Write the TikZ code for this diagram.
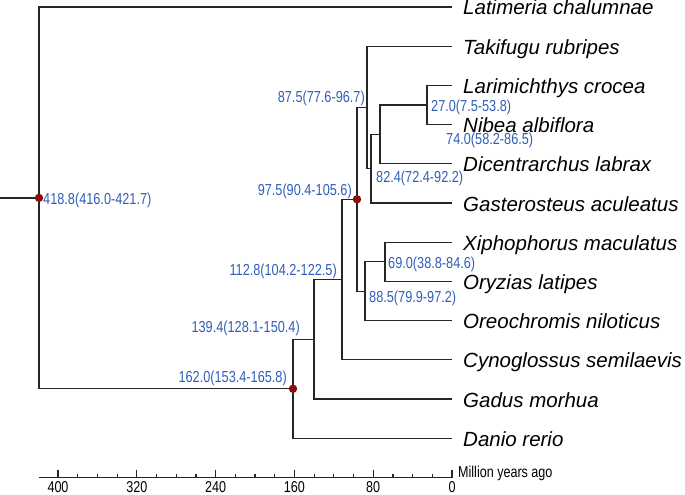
\documentclass[tikz,border=0pt]{standalone}
\usepackage{fontspec}
\setmainfont{Liberation Sans}
\newfontfamily\narrowsans[FakeStretch=0.8]{Liberation Sans}
\definecolor{ageblue}{RGB}{47,95,185}
\definecolor{nodered}{RGB}{140,12,12}
\tikzset{
  branch/.style={line width=1.2pt, black!85},
  species/.style={anchor=base west, inner sep=0pt, font=\fontsize{20.5}{22}\selectfont\itshape},
  agelbl/.style={inner sep=0pt, text=ageblue, font=\narrowsans\fontsize{15.9}{17}\selectfont},
  axislbl/.style={inner sep=0pt, anchor=base, font=\narrowsans\fontsize{15.7}{17}\selectfont},
  calib/.style={fill=nodered}
}
\begin{document}
\begin{tikzpicture}[x=1pt, y=-1pt]
            \useasboundingbox (0,0) rectangle (685,495);
            % tips
            \foreach \name/\txt [count=\i from 0] in {lat/Latimeria chalumnae, tak/Takifugu rubripes, lar/Larimichthys crocea, nib/Nibea albiflora, dic/Dicentrarchus labrax, gas/Gasterosteus aculeatus, xip/Xiphophorus maculatus, ory/Oryzias latipes, ore/Oreochromis niloticus, cyn/Cynoglossus semilaevis, gad/Gadus morhua, dan/Danio rerio}
                {\coordinate (\name) at (452,7+39.2*\i);
                 \node[species] (\name-lbl) at (463,15+39.2*\i) {\txt};}
            % internal nodes
            \coordinate (n27) at (427,105.0);
            \coordinate (n74) at (380,134.4);
            \coordinate (n82) at (371,168.7);
            \coordinate (n87) at (367,107.45);
            \coordinate (n69) at (385,261.8);
            \coordinate (n88) at (365,291.2);
            \coordinate (n97) at (357,199.3);
            \coordinate (n112) at (342,279.6);
            \coordinate (n139) at (314,339.3);
            \coordinate (n162) at (293,388.75);
            \coordinate (root) at (39,197.9);
            \coordinate (stem) at (0,197.9);
            % branches
            \draw[branch] (lar) -| (n27) |- (nib);
            \draw[branch] (n27) -| (n74) |- (dic);
            \draw[branch] (n74) -| (n82) |- (gas);
            \draw[branch] (tak) -| (n87) |- (n82);
            \draw[branch] (xip) -| (n69) |- (ory);
            \draw[branch] (n69) -| (n88) |- (ore);
            \draw[branch] (n87) -| (n97) |- (n88);
            \draw[branch] (n97) -| (n112) |- (cyn);
            \draw[branch] (n112) -| (n139) |- (gad);
            \draw[branch] (n139) -| (n162) |- (dan);
            \draw[branch] (lat) -| (root) |- (n162);
            \draw[branch] (stem) -- (root);
            \fill[calib] (root) circle[radius=4.2pt] (n97) circle[radius=4.2pt] (n162) circle[radius=4.2pt];
            % divergence times
            \node[agelbl, anchor=base west] (t-root) at (43,204) {418.8(416.0-421.7)};
            \node[agelbl, anchor=base east] (t-87) at (365,102) {87.5(77.6-96.7)};
            \node[agelbl, anchor=base east] (t-97) at (352,195) {97.5(90.4-105.6)};
            \node[agelbl, anchor=base west] (t-82) at (376,182) {82.4(72.4-92.2)};
            \node[agelbl, anchor=base west] (t-27) at (431,111) {27.0(7.5-53.8)};
            \node[agelbl, anchor=base west] (t-74) at (446,144) {74.0(58.2-86.5)};
            \node[agelbl, anchor=base west] (t-69) at (388,268) {69.0(38.8-84.6)};
            \node[agelbl, anchor=base west] (t-88) at (369,302) {88.5(79.9-97.2)};
            \node[agelbl, anchor=base east] (t-112) at (337,275) {112.8(104.2-122.5)};
            \node[agelbl, anchor=base east] (t-139) at (300,332) {139.4(128.1-150.4)};
            \node[agelbl, anchor=base east] (t-162) at (287,382) {162.0(153.4-165.8)};
            % time axis
            \coordinate (axl) at (39,477.7);
            \coordinate (axr) at (452,477.7);
            \draw[branch] (axl) -- (axr);
            \foreach \a in {0,20,...,400}
                \draw[branch] (452-0.985*\a,477.7) -- ++(0,-3.3);
            \foreach \a in {0,80,...,400}
                {\draw[branch] (452-0.985*\a,477.7) -- ++(0,-7.7);
                 \node[axislbl] (tick-\a) at (452-0.985*\a,492.5) {\a};}
            \node[axislbl, anchor=base west] (axtitle) at (458,477) {Million years ago};
        \end{tikzpicture}
\end{document}
